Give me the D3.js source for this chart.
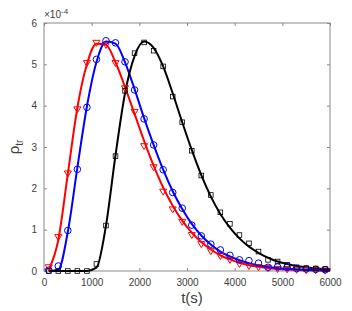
<!DOCTYPE html>
<html>
<head>
<meta charset="utf-8">
<script src="https://cdn.jsdelivr.net/npm/d3@7"></script>
<style>
  body { margin: 0; background: #fff; }
  text { font-family: "Liberation Sans", Arial, sans-serif; }
</style>
</head>
<body>
<svg id="chart" width="352" height="311"></svg>
<script>
// marker times (s) and values (x1e-4)
const markT = [100,300,500,700,900,1100,1300,1500,1700,1900,2100,2300,2500,2700,2900,3100,3300,3500,3700,3900,4100,4300,4500,4700,4900,5100,5300,5500,5700,5900]
const redMark = [0.09,0.82,2.36,3.91,5.03,5.52,5.47,5.03,4.42,3.85,3.02,2.51,1.92,1.49,1.19,0.87,0.65,0.48,0.36,0.27,0.17,0.12,0.09,0.07,0.05,0.04,0.03,0.02,0.02,0.01]
const blueMark = [0.02,0.12,0.98,2.46,3.96,5.12,5.57,5.52,5.06,4.38,3.68,3.05,2.45,1.9,1.52,1.11,0.85,0.65,0.51,0.38,0.27,0.25,0.19,0.09,0.1,0.09,0.06,0.05,0.04,0.03]
const blackMark = [0,0,0,0,0,0.17,1.1,2.78,4.36,5.27,5.53,5.33,4.95,4.22,3.6,2.91,2.31,1.84,1.42,1.14,0.87,0.67,0.47,0.27,0.23,0.15,0.09,0.07,0.06,0.05]

// fitted curves
const lineT = [100,300,500,700,900,1100,1300,1500,1700,1900,2100,2300,2500,2700,2900,3100,3300,3500,3700,3900,4100,4300,4500,4700,4900,5100,5300,5500,5700,5900,6000]
const redLine = [0.03,0.75,2.35,3.95,5.0,5.5,5.47,5.05,4.45,3.8,3.15,2.55,2.02,1.58,1.22,0.93,0.7,0.52,0.38,0.28,0.2,0.14,0.1,0.07,0.05,0.035,0.025,0.018,0.012,0.008,0.006]
const blueLine = [0,0.03,0.95,2.5,3.98,5.05,5.55,5.5,5.05,4.4,3.7,3.05,2.45,1.93,1.5,1.14,0.86,0.64,0.47,0.35,0.26,0.19,0.14,0.1,0.075,0.055,0.04,0.03,0.022,0.016,0.014]
const blackLine = [0,0,0,0,0,0.08,1.1,2.8,4.3,5.2,5.55,5.4,4.95,4.3,3.6,2.93,2.32,1.8,1.38,1.05,0.79,0.59,0.44,0.32,0.23,0.17,0.12,0.09,0.065,0.05,0.04]

const xTicks = [0,1000,2000,3000,4000,5000,6000]
const yTicks = [0,1,2,3,4,5,6]

const margin = {top: 23, right: 22, bottom: 40, left: 44}
const width = 352, height = 311

const svg = d3.select("#chart")

const x = d3.scaleLinear().domain([0, 6000]).range([margin.left, width - margin.right])
const y = d3.scaleLinear().domain([0, 6]).range([height - margin.bottom, margin.top])

const axisCol = "#8a8a8a"
const labCol = "#404040"

// box
svg.append("rect")
    .attr("x", x(0)).attr("y", y(6))
    .attr("width", x(6000) - x(0)).attr("height", y(0) - y(6))
    .attr("fill", "none").attr("stroke", axisCol).attr("stroke-width", 1)

const styleAxis = g => {
  g.select(".domain").remove()
  g.selectAll(".tick line").attr("stroke", axisCol)
  g.selectAll(".tick text").attr("fill", labCol).style("font-size", "10px")
}

svg.append("g")
    .attr("transform", `translate(0,${y(0)})`)
    .call(d3.axisBottom(x).tickValues(xTicks).tickSize(-3).tickPadding(8).tickFormat(d3.format("d")))
    .call(styleAxis)
svg.append("g")
    .attr("transform", `translate(0,${y(6)})`)
    .call(d3.axisTop(x).tickValues(xTicks).tickSize(-3).tickFormat(""))
    .call(styleAxis)
svg.append("g")
    .attr("transform", `translate(${x(0)},0)`)
    .call(d3.axisLeft(y).tickValues(yTicks).tickSize(-3).tickPadding(7).tickFormat(d3.format("d")))
    .call(styleAxis)
svg.append("g")
    .attr("transform", `translate(${x(6000)},0)`)
    .call(d3.axisRight(y).tickValues(yTicks).tickSize(-3).tickFormat(""))
    .call(styleAxis)

// exponent label
const ex = svg.append("text").attr("x", x(0)).attr("y", y(6) - 5)
    .attr("fill", labCol).style("font-size", "10px")
ex.append("tspan").text("\u00d710")
ex.append("tspan").attr("dy", -4).style("font-size", "8px").text("-4")

// axis labels
svg.append("text")
    .attr("x", (x(0) + x(6000)) / 2 + 5).attr("y", 303)
    .attr("text-anchor", "middle").attr("fill", labCol)
    .style("font-size", "15px").text("t(s)")

const yl = svg.append("text")
    .attr("transform", `translate(19,${(y(0) + y(6)) / 2}) rotate(-90)`)
    .attr("text-anchor", "middle").attr("fill", labCol)
    .style("font-size", "15px")
yl.append("tspan").text("\u03c1")
yl.append("tspan").attr("dy", 4).style("font-size", "10px").text("tr")

const series = [
  {line: redLine, mark: redMark, color: "#ff0000", shape: "tri"},
  {line: blueLine, mark: blueMark, color: "#0000ff", shape: "circ"},
  {line: blackLine, mark: blackMark, color: "#000000", shape: "sq"}
]

const line = d3.line()
    .x(d => x(d[0]))
    .y(d => y(d[1]))
    .curve(d3.curveMonotoneX)

series.forEach(s => {
  svg.append("path")
      .datum(lineT.map((t, i) => [t, s.line[i]]))
      .attr("fill", "none")
      .attr("stroke", s.color)
      .attr("stroke-width", 2)
      .attr("d", line)
})

series.forEach(s => {
  const pts = markT.map((t, i) => [t, s.mark[i]])
  const g = svg.append("g")
  if (s.shape == "circ") {
    g.selectAll("circle").data(pts).join("circle")
        .attr("cx", d => x(d[0])).attr("cy", d => y(d[1])).attr("r", 3.3)
        .attr("fill", "none").attr("stroke", s.color).attr("stroke-width", 1)
  } else if (s.shape == "tri") {
    g.selectAll("path").data(pts).join("path")
        .attr("d", d => {
          const cx = x(d[0]), cy = y(d[1])
          return `M${cx - 3.5},${cy - 2.5}L${cx + 3.5},${cy - 2.5}L${cx},${cy + 3.5}Z`
        })
        .attr("fill", "none").attr("stroke", s.color).attr("stroke-width", 1)
  } else {
    g.selectAll("rect").data(pts).join("rect")
        .attr("x", d => x(d[0]) - 2.3).attr("y", d => y(d[1]) - 2.3)
        .attr("width", 4.6).attr("height", 4.6)
        .attr("fill", "none").attr("stroke", s.color).attr("stroke-width", 0.8)
  }
})
</script>
</body>
</html>
